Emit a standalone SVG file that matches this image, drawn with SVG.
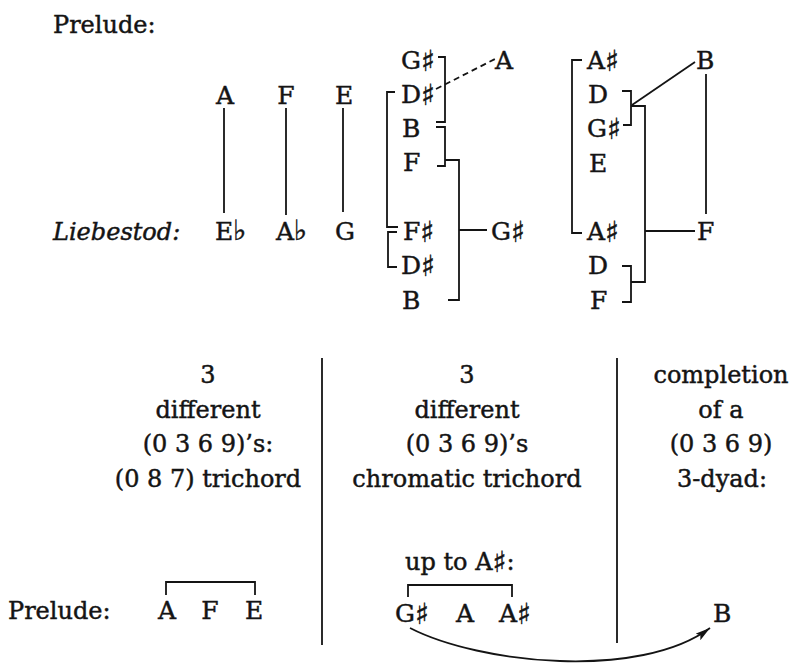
<svg xmlns="http://www.w3.org/2000/svg" width="795" height="664" viewBox="0 0 795 664">
<style>
text{font-family:"DejaVu Serif","DejaVu Sans",serif;fill:#141414;stroke:#141414;stroke-width:0.45}
.n{font-size:25px}
.l{font-size:24px}
.c{font-size:24px;text-anchor:middle}
.m{text-anchor:middle}
.i{font-style:italic}
.s{font-family:"DejaVu Sans",sans-serif;font-size:29px;font-weight:bold}
.f{font-family:"DejaVu Sans",sans-serif;font-size:28px;font-weight:bold}
.k{fill:none;stroke:#141414;stroke-width:1.8}
.d{stroke-dasharray:6,4}
</style>
<defs>
<marker id="ah" markerUnits="userSpaceOnUse" markerWidth="16" markerHeight="10" refX="15" refY="4" orient="auto">
<path d="M0,0 L15,4 L0,8 L3,4 z" fill="#141414"/>
</marker>
</defs>
<rect width="795" height="664" fill="#fff"/>

<g id="labels">
<text class="l" x="53" y="33">Prelude:</text>
<text class="l i" x="53" y="240">Liebestod:</text>
<text class="l" x="8" y="619">Prelude:</text>
</g>

<g id="prelude-row">
<g id="p-A"><text class="n m" x="225" y="104">A</text></g>
<g id="p-F"><text class="n m" x="286" y="104">F</text></g>
<g id="p-E"><text class="n m" x="344" y="104">E</text></g>
</g>
<g id="liebestod-row">
<g id="l-Eb"><text class="n" x="215" y="240">E<tspan class="f">♭</tspan></text></g>
<g id="l-Ab"><text class="n" x="276" y="240">A<tspan class="f">♭</tspan></text></g>
<g id="l-G"><text class="n" x="335" y="240">G</text></g>
</g>

<g id="col2">
<g id="c2-Gs1"><text class="n" x="401" y="69">G<tspan class="s" dy="2">♯</tspan></text></g>
<g id="c2-Ds1"><text class="n" x="401" y="103">D<tspan class="s" dy="2">♯</tspan></text></g>
<g id="c2-B1"><text class="n" x="402" y="137">B</text></g>
<g id="c2-F1"><text class="n" x="403" y="171">F</text></g>
<g id="c2-Fs"><text class="n" x="403" y="240">F<tspan class="s" dy="2">♯</tspan></text></g>
<g id="c2-Ds2"><text class="n" x="401" y="274">D<tspan class="s" dy="2">♯</tspan></text></g>
<g id="c2-B2"><text class="n" x="402" y="309">B</text></g>
<g id="c2-A"><text class="n" x="495" y="69">A</text></g>
<g id="c2-Gs2"><text class="n" x="491" y="240">G<tspan class="s" dy="2">♯</tspan></text></g>
</g>

<g id="col3">
<g id="c3-As1"><text class="n" x="587" y="69">A<tspan class="s" dy="2">♯</tspan></text></g>
<g id="c3-D1"><text class="n" x="588" y="103">D</text></g>
<g id="c3-Gs"><text class="n" x="587" y="137">G<tspan class="s" dy="2">♯</tspan></text></g>
<g id="c3-E"><text class="n" x="589" y="172">E</text></g>
<g id="c3-As2"><text class="n" x="587" y="240">A<tspan class="s" dy="2">♯</tspan></text></g>
<g id="c3-D2"><text class="n" x="588" y="274">D</text></g>
<g id="c3-F"><text class="n" x="590" y="309">F</text></g>
<g id="c3-B"><text class="n" x="696" y="69">B</text></g>
<g id="c3-F2"><text class="n" x="697" y="240">F</text></g>
</g>

<g id="desc1">
<text class="c" x="208" y="383">3</text>
<text class="c" x="208" y="418">different</text>
<text class="c" x="208" y="452">(0 3 6 9)’s:</text>
<text class="c" x="208" y="487">(0 8 7) trichord</text>
</g>
<g id="desc2">
<text class="c" x="467" y="383">3</text>
<text class="c" x="467" y="418">different</text>
<text class="c" x="467" y="452">(0 3 6 9)’s</text>
<text class="c" x="467" y="487">chromatic trichord</text>
</g>
<g id="desc3">
<text class="c" x="721" y="383">completion</text>
<text class="c" x="721" y="418">of a</text>
<text class="c" x="721" y="452">(0 3 6 9)</text>
<text class="c" x="722" y="487">3-dyad:</text>
</g>

<g id="bottom-prelude">
<g id="b-A"><text class="n m" x="167" y="619">A</text></g>
<g id="b-F"><text class="n m" x="210" y="619">F</text></g>
<g id="b-E"><text class="n m" x="254" y="619">E</text></g>
</g>
<g id="bottom-mid">
<text class="l" x="405" y="570">up to A<tspan class="s" dy="2">♯</tspan><tspan dy="-2">:</tspan></text>
<g id="b-Gs"><text class="n" x="395" y="622">G<tspan class="s" dy="2">♯</tspan></text></g>
<g id="b-A2"><text class="n m" x="465" y="622">A</text></g>
<g id="b-As"><text class="n" x="499" y="622">A<tspan class="s" dy="2">♯</tspan></text></g>
</g>
<g id="b-B"><text class="n" x="713" y="622">B</text></g>

<g id="connectors">
<path class="k" d="M224,108V213M286,108V215M343,108V212"/>
<path class="k" d="M438,57H445V122H436"/>
<path class="k d" d="M436,89L495,59"/>
<path class="k" d="M436,127H445V166H437"/>
<path class="k" d="M445,160H459V300H448M459,230H487"/>
<path class="k" d="M395,92H387V227H398"/>
<path class="k" d="M397,232H388V267H397"/>
<path class="k" d="M582,60H572V233H582"/>
<path class="k" d="M622,91H631V125H623"/>
<path class="k" d="M632,105L695,62"/>
<path class="k" d="M631,106H645V282H631M645,231H695"/>
<path class="k" d="M622,266H631V302H622"/>
<path class="k" d="M706,74V214"/>
<path class="k" d="M322,358V645M617,358V643"/>
<path class="k" d="M166,595V582H255V595"/>
<path class="k" d="M408,597V585H512V597"/>
<path class="k" d="M410,628C480,664 640,680 710,628" marker-end="url(#ah)"/>
</g>
</svg>
